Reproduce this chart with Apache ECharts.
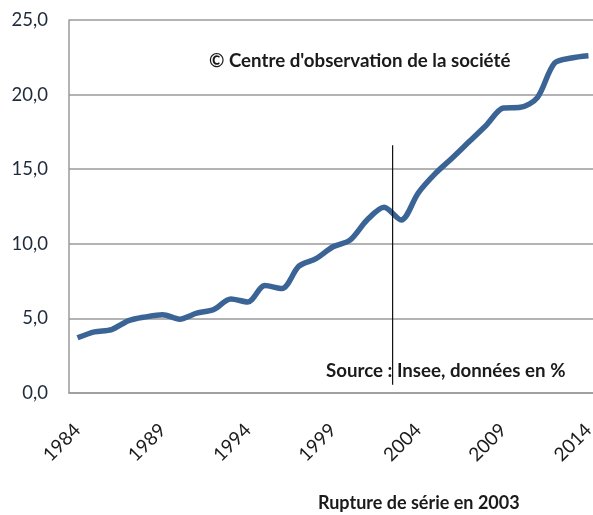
<!DOCTYPE html>
<html>
<head>
<meta charset="utf-8">
<script src="https://cdn.jsdelivr.net/npm/echarts@6/dist/echarts.min.js"></script>
<style>html,body{margin:0;padding:0;background:#fff}#c{width:593px;height:515px}</style>
</head>
<body>
<div id="c"></div>
<script>
const years = [1984,1985,1986,1987,1988,1989,1990,1991,1992,1993,1994,1995,1996,1997,1998,1999,2000,2001,2002,2003,2004,2005,2006,2007,2008,2009,2010,2011,2012,2013,2014];
const values = [3.7,4.1,4.25,4.85,5.1,5.25,4.95,5.35,5.6,6.3,6.1,7.2,7.0,8.5,9.0,9.8,10.25,11.6,12.45,11.6,13.4,14.7,15.75,16.85,17.95,19.1,19.15,19.8,22.1,22.45,22.6];
const yTicks = [0,5,10,15,20,25];
const breakYear = 2002.5;
const breakLine = [[breakYear, 0.55],[breakYear, 16.6]];
const titleText = "© Centre d'observation de la société";
const sourceText = "Source : Insee, données en %";
const ruptureText = "Rupture de série en 2003";

const chart = echarts.init(document.getElementById('c'), null, {renderer:'canvas'});
const font = 'Lato';
chart.setOption({
  animation:false,
  backgroundColor:'#fff',
  grid:{left:69, top:20, right:-4, bottom:122, containLabel:false, outerBoundsMode:'none'},
  xAxis:[{
    type:'category', data:years.map(String), boundaryGap:true,
    axisLine:{show:true, lineStyle:{color:'#9a9a9a', width:1.5}},
    axisTick:{show:false},
    axisLabel:{interval:4, rotate:45, margin:34, color:'#1a1a1a', fontFamily:font, fontSize:19}
  },{
    type:'value', min:years[0]-0.5, max:years[years.length-1]+0.5, show:false
  }],
  yAxis:{
    type:'value', min:yTicks[0], max:yTicks[yTicks.length-1], interval:5,
    axisLine:{show:true, lineStyle:{color:'#9a9a9a', width:1.5}},
    axisTick:{show:false},
    splitLine:{show:true, lineStyle:{color:'#9a9a9a', width:1.5}},
    axisLabel:{margin:21, color:'#1f2a3c', fontFamily:font, fontSize:18.5,
      formatter:v=>v.toFixed(1).replace('.',',')}
  },
  title:[
    {text:titleText, left:209, top:51, textStyle:{fontFamily:font, fontWeight:'bold', fontSize:18.7, color:'#1a1a1a'}, padding:0},
    {text:sourceText, left:326, top:361, textStyle:{fontFamily:font, fontWeight:'bold', fontSize:18.7, color:'#1a1a1a'}, padding:0},
    {text:ruptureText, left:318, top:494, textStyle:{fontFamily:font, fontWeight:'bold', fontSize:18, color:'#1a1a1a'}, padding:0}
  ],
  series:[{
    type:'line', data:values, xAxisIndex:0, smooth:0.3, showSymbol:false,
    lineStyle:{color:'#3b6496', width:5.5}, z:3
  },{
    type:'line', data:breakLine, xAxisIndex:1, showSymbol:false,
    lineStyle:{color:'#111', width:1.2}, z:4
  }]
});
</script>
</body>
</html>
